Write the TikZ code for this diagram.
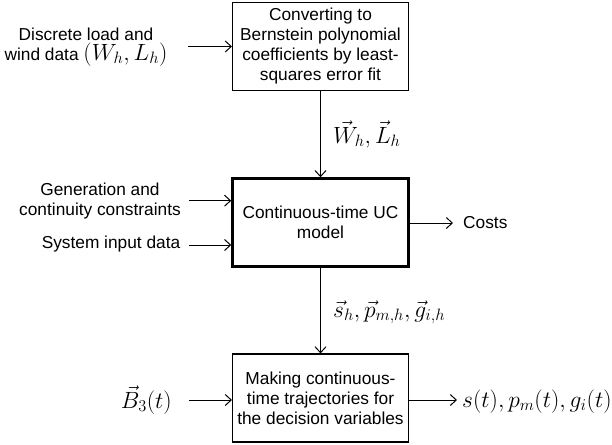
\RequirePackage{fix-cm}
\documentclass[tikz,border=0pt]{standalone}
\usepackage{fontspec}
\setmainfont{Liberation Sans}
\usetikzlibrary{arrows.meta}
\begin{document}
\begin{tikzpicture}[x=1pt,y=-1pt,
  txt/.style={font=\fontsize{17.3}{20}\selectfont, align=center, inner sep=0pt},
  mlab/.style={font=\fontsize{23.5}{24}\selectfont, inner sep=0pt},
  blk/.style={draw, line width=1.1pt, minimum width=176pt, minimum height=88pt, txt},
  arr/.style={line width=1pt, -{Straight Barb[length=6pt,width=11pt]}}]
\useasboundingbox (0,0) rectangle (612,444);
% blocks
\node[blk] (b1) at (320.5,46.5) {Converting to\\Bernstein polynomial\\coefficients by least-\\squares error fit};
\node[blk, line width=2.5pt] (b2) at (320.5,222.5) {Continuous-time UC\\model};
\node[blk] (b3) at (320.5,398) {Making continuous-\\time trajectories for\\the decision variables};
% vertical flow
\draw[arr] (b1) -- (b2);
\draw[arr] (b2) -- (b3);
\node[mlab, anchor=base west] (lw) at (333,143) {$\vec{W}_h,\vec{L}_h$};
\node[mlab, anchor=base west] (ls) at (333,317) {$\vec{s}_h,\vec{p}_{m,h},\vec{g}_{i,h}$};
% inputs to block 1
\node[txt] (t1) at (86,47) {Discrete load and\\wind data {\fontsize{23.5}{20}\selectfont$(W_h,L_h)$}};
\coordinate (a1) at (188,46.5);
\draw[arr] (a1) -- (a1 -| b1.west);
% inputs to block 2
\node[txt] (t2) at (100,201) {Generation and\\continuity constraints};
\coordinate (a2) at (189,200.7);
\draw[arr] (a2) -- (a2 -| b2.west);
\node[txt] (t3) at (111,244) {System input data};
\coordinate (a3) at (189,245);
\draw[arr] (a3) -- (a3 -| b2.west);
% costs
\node[txt, anchor=west] (costs) at (463,223) {Costs};
\draw[arr, shorten >=10pt] (b2.east |- costs.west) -- (costs.west);
% block 3 in/out
\node[mlab, anchor=base east] (tb) at (172,408) {$\vec{B}_3(t)$};
\coordinate (a4) at (189,400);
\draw[arr] (a4) -- (a4 -| b3.west);
\node[mlab, anchor=base west] (out) at (462,407) {$s(t),p_m(t),g_i(t)$};
\coordinate (oend) at (457,400);
\draw[arr] (oend -| b3.east) -- (oend);
\end{tikzpicture}
\end{document}
